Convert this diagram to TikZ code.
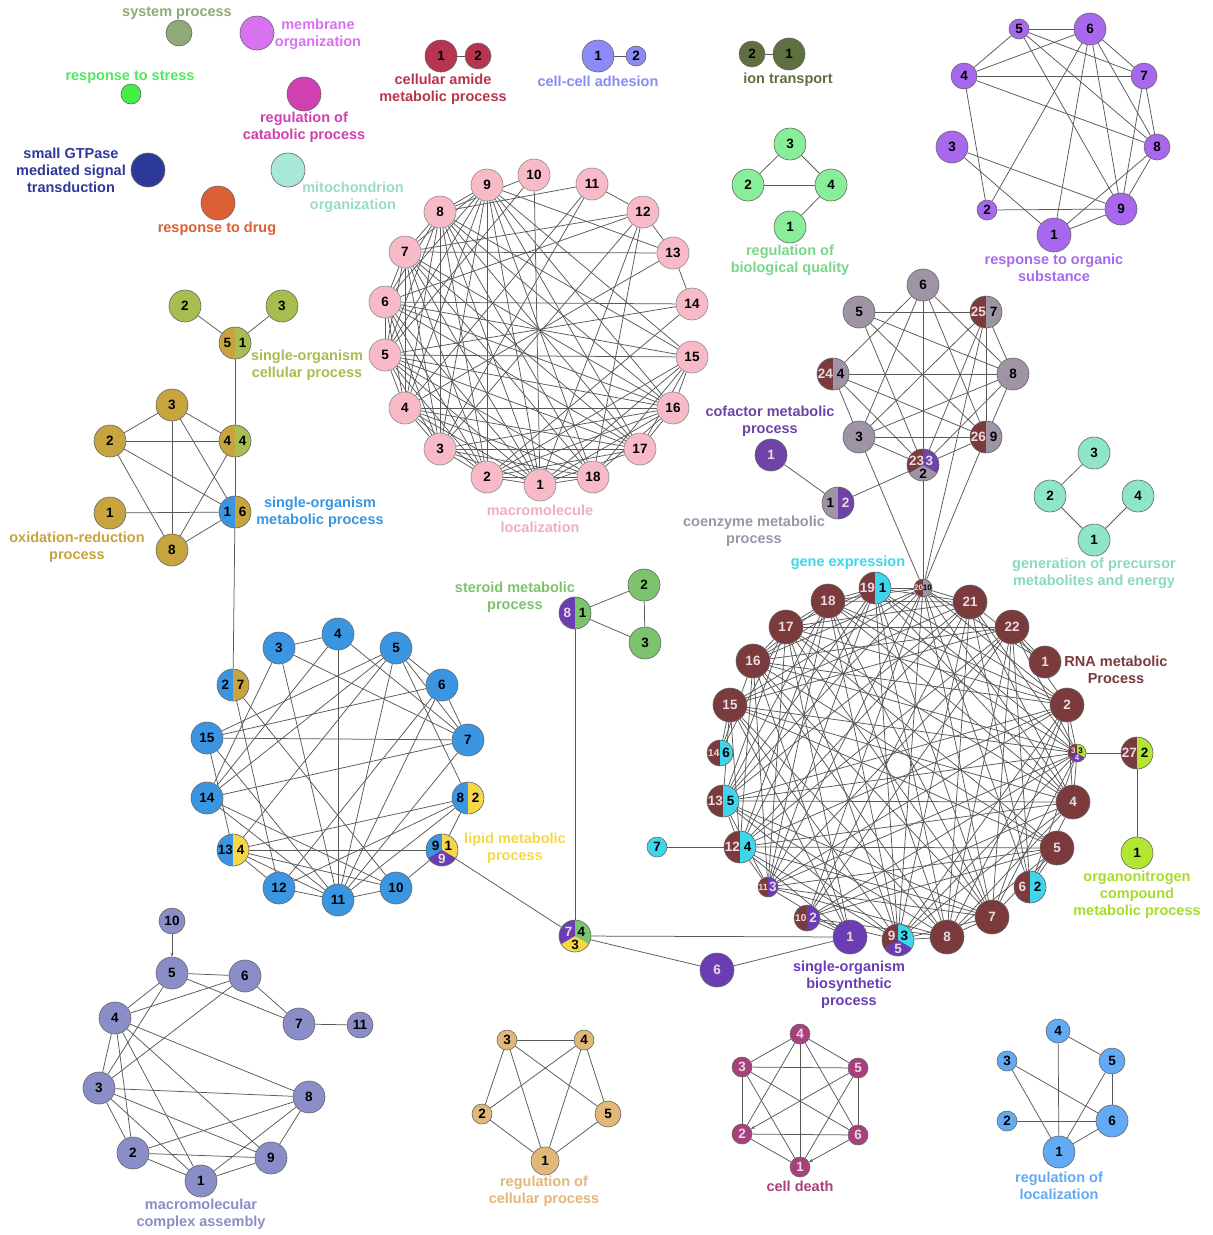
\documentclass[tikz,border=0pt]{standalone}
\usepackage{fontspec}
\setmainfont{Liberation Sans}
\usetikzlibrary{arrows.meta}
\pgfdeclarelayer{bg}
\pgfsetlayers{bg,main}
\definecolor{cRNA}{HTML}{7B3A3C}
\definecolor{cCyan}{HTML}{3DD6EC}
\definecolor{cPurp}{HTML}{6A3DB5}
\definecolor{cGrey}{HTML}{9E94A6}
\definecolor{cPink}{HTML}{F8BAC6}
\definecolor{cBlue}{HTML}{3A96E2}
\definecolor{cGold}{HTML}{C8A43E}
\definecolor{cOlive}{HTML}{A6BE50}
\definecolor{cYel}{HTML}{F6D846}
\definecolor{cSter}{HTML}{7CC46C}
\definecolor{cLime}{HTML}{B2E632}
\definecolor{cMint}{HTML}{8FE6C6}
\definecolor{cBQ}{HTML}{88EE98}
\definecolor{cOrg}{HTML}{A868EE}
\definecolor{cLil}{HTML}{8A8EC8}
\definecolor{cTan}{HTML}{E2B878}
\definecolor{cDeath}{HTML}{A8407E}
\definecolor{cLoc}{HTML}{62AAF4}
\definecolor{cSys}{HTML}{8FAA78}
\definecolor{cMem}{HTML}{D872F0}
\definecolor{cStress}{HTML}{44EE44}
\definecolor{cStressL}{HTML}{50E860}
\definecolor{cCat}{HTML}{D040B0}
\definecolor{cGtp}{HTML}{2E3A9A}
\definecolor{cMito}{HTML}{A8E8D8}
\definecolor{cMitoL}{HTML}{98DCC8}
\definecolor{cDrug}{HTML}{DD6035}
\definecolor{cAmide}{HTML}{B83550}
\definecolor{cAdh}{HTML}{8A8AF8}
\definecolor{cIon}{HTML}{5E7040}
\definecolor{cCof}{HTML}{6E44A8}
\definecolor{pale}{HTML}{EADCE2}
\newcommand\ndfont{\fontsize{13.5pt}{13.5pt}\selectfont\bfseries}
\newcommand\lbfont{\fontsize{14.5pt}{17pt}\selectfont\bfseries}
\newcommand\smf{\fontsize{8pt}{8pt}\selectfont}
\newcommand\mysn[6]{\node[nd,fill=#4,minimum size=#3pt,text=#5] (#1) at (#2) {#6};}
\newcommand\myhn[7]{%
  \node[nd,fill=#4,minimum size=#3pt,path picture={\fill[#5] ([yshift=-30pt]path picture bounding box.center) rectangle ++(30pt,60pt);}] (#1) at (#2) {};
  \node[nt] (#1a) at ([xshift=-0.24*#3pt]#1.center) {#6};
  \node[nt] (#1b) at ([xshift=0.24*#3pt]#1.center) {#7};}
\newcommand\mytn[9]{%
  \node[nd,fill=#6,minimum size=#3pt,path picture={\fill[#4] (path picture bounding box.center) -- +(90:30pt) -- +(150:30pt) -- +(210:30pt) -- cycle; \fill[#5] (path picture bounding box.center) -- +(90:30pt) -- +(30:30pt) -- +(-30:30pt) -- cycle;}] (#1) at (#2) {};
  \node[nt] (#1a) at ([xshift=-0.2*#3pt,yshift=0.12*#3pt]#1.center) {#7};
  \node[nt] (#1b) at ([xshift=0.2*#3pt,yshift=0.12*#3pt]#1.center) {#8};
  \node[nt] (#1c) at ([yshift=-0.28*#3pt]#1.center) {#9};}
\begin{document}
\begin{tikzpicture}[x=1pt,y=-1pt,
  nd/.style={circle,draw=black!60,line width=0.6pt,inner sep=0pt,font=\ndfont},
  nt/.style={inner sep=0pt,font=\ndfont},
  edge/.style={draw=black!65,line width=0.75pt},
  arr/.style={edge,-{Stealth[length=4pt,width=3pt]}},
  lab/.style={font=\lbfont,align=center,inner sep=0pt}]
\useasboundingbox (0,0) rectangle (1213,1235);
\begin{pgfonlayer}{bg}
\fill[white] (0,0) rectangle (1213,1235);
\end{pgfonlayer}

% ---------- singletons ----------
\mysn{sys}{179,33}{26}{cSys}{black}{}
\mysn{mem}{257,33}{34}{cMem}{black}{}
\mysn{stress}{131,94}{20}{cStress}{black}{}
\mysn{cat}{304,94}{34}{cCat}{black}{}
\mysn{gtp}{148,170}{34}{cGtp}{black}{}
\mysn{mito}{288,170}{34}{cMito}{black}{}
\mysn{drug}{218,203}{34}{cDrug}{black}{}
\node[lab,text=cSys] (Lsys) at (177,13) {system process};
\node[lab,text=cMem] (Lmem) at (318,34) {membrane\\organization};
\node[lab,text=cStressL] (Lstress) at (130,77) {response to stress};
\node[lab,text=cCat] (Lcat) at (304,127) {regulation of\\catabolic process};
\node[lab,text=cGtp] (Lgtp) at (71,170) {small GTPase\\mediated signal\\transduction};
\node[lab,text=cMitoL] (Lmito) at (353,197) {mitochondrion\\organization};
\node[lab,text=cDrug] (Ldrug) at (217,229) {response to drug};

% ---------- pairs ----------
\mysn{AM1}{441,56}{32}{cAmide}{black}{1}
\mysn{AM2}{478,56}{26}{cAmide}{black}{2}
\node[lab,text=cAmide] (Lam) at (443,89) {cellular amide\\metabolic process};
\mysn{AD1}{598,56}{32}{cAdh}{black}{1}
\mysn{AD2}{636,56}{20}{cAdh}{black}{2}
\node[lab,text=cAdh] (Lad) at (598,81) {cell-cell adhesion};
\mysn{IO2}{752,54}{26}{cIon}{black}{2}
\mysn{IO1}{789,54}{32}{cIon}{black}{1}
\node[lab,text=cIon] (Lio) at (788,80) {ion transport};

% ---------- regulation of biological quality ----------
\mysn{BQ3}{790,144}{32}{cBQ}{black}{3}
\mysn{BQ2}{748,185}{32}{cBQ}{black}{2}
\mysn{BQ4}{831,185}{32}{cBQ}{black}{4}
\mysn{BQ1}{790,227}{32}{cBQ}{black}{1}
\node[lab,text=cBQ!90!black] (Lbq) at (790,260) {regulation of\\biological quality};

% ---------- response to organic substance ----------
\mysn{U1}{1054,235}{34}{cOrg}{black}{1}
\mysn{U2}{987,210}{20}{cOrg}{black}{2}
\mysn{U3}{952,147}{32}{cOrg}{black}{3}
\mysn{U4}{964,76}{26}{cOrg}{black}{4}
\mysn{U5}{1019,29}{20}{cOrg}{black}{5}
\mysn{U6}{1090,29}{32}{cOrg}{black}{6}
\mysn{U7}{1144,76}{26}{cOrg}{black}{7}
\mysn{U8}{1157,147}{26}{cOrg}{black}{8}
\mysn{U9}{1121,209}{32}{cOrg}{black}{9}
\node[lab,text=cOrg] (Lorg) at (1054,268) {response to organic\\substance};

% ---------- macromolecule localization ----------
\foreach \n/\p in {1/{540,485},2/{487,477},3/{440,449},4/{405,408},5/{385,355},6/{385,302},7/{405,252},8/{440,212},9/{487,185},10/{534,175},11/{592,184},12/{643,212},13/{673,253},14/{692,304},15/{692,357},16/{673,408},17/{640,449},18/{593,477}}
  {\node[nd,fill=cPink,draw=black!45,minimum size=32pt] (P\n) at (\p) {\n};}
\node[lab,text=cPink!95!black] (Lpink) at (540,519) {macromolecule\\localization};

% ---------- single-organism cellular / oxidation-reduction ----------
\mysn{O2}{185,306}{32}{cOlive}{black}{2}
\mysn{O3}{282,306}{32}{cOlive}{black}{3}
\myhn{O51}{235,343}{32}{cGold}{cOlive}{5}{1}
\myhn{O44}{235,441}{32}{cGold}{cOlive}{4}{4}
\myhn{O16}{235,512}{32}{cBlue}{cGold}{1}{6}
\mysn{X3}{172,405}{32}{cGold}{black}{3}
\mysn{X2}{110,441}{32}{cGold}{black}{2}
\mysn{X1}{110,513}{32}{cGold}{black}{1}
\mysn{X8}{172,550}{32}{cGold}{black}{8}
\node[lab,text=cOlive] (Lsoc) at (307,365) {single-organism\\cellular process};
\node[lab,text=cGold] (Lox) at (77,547) {oxidation-reduction\\process};
\node[lab,text=cBlue] (Lsom) at (320,512) {single-organism\\metabolic process};

% ---------- single-organism metabolic process (blue) ----------
\foreach \n/\p in {3/{279,648},4/{338,634},5/{396,648},6/{442,685},7/{468,740},15/{207,738},14/{207,798},12/{279,888},11/{338,900},10/{396,888}}
  {\node[nd,fill=cBlue,minimum size=32pt] (B\n) at (\p) {\n};}
\myhn{B2}{233,685}{32}{cBlue}{cGold}{2}{7}
\myhn{B8}{468,798}{32}{cBlue}{cYel}{8}{2}
\myhn{B13}{233,850}{32}{cBlue}{cYel}{13}{4}
\mytn{B9}{442,850}{32}{cBlue}{cYel}{cPurp}{9}{1}{\color{pale}9}
\node[lab,text=cYel] (Llip) at (515,848) {lipid metabolic\\process};

% ---------- steroid ----------
\myhn{S81}{575,613}{32}{cPurp}{cSter}{\color{pale}8}{1}
\mysn{S2}{644,585}{32}{cSter}{black}{2}
\mysn{S3}{645,643}{32}{cSter}{black}{3}
\node[lab,text=cSter] (Lster) at (515,597) {steroid metabolic\\process};
\mytn{M743}{575,936}{32}{cPurp}{cSter}{cYel}{\color{pale}7}{4}{3}
\mysn{Q7}{657,847}{20}{cCyan}{black}{7}
\mysn{V6}{717,970}{34}{cPurp}{pale}{6}

% ---------- coenzyme / cofactor (grey) ----------
\mysn{G6}{923,285}{32}{cGrey}{black}{6}
\mysn{G5}{859,312}{32}{cGrey}{black}{5}
\mysn{G8}{1013,374}{32}{cGrey}{black}{8}
\mysn{G3}{859,437}{32}{cGrey}{black}{3}
\myhn{G25}{986,312}{32}{cRNA}{cGrey}{\color{pale}25}{7}
\myhn{G24}{833,374}{32}{cRNA}{cGrey}{\color{pale}24}{4}
\myhn{G26}{986,437}{32}{cRNA}{cGrey}{\color{pale}26}{9}
\mytn{G23}{923,465}{32}{cRNA}{cCof}{cGrey}{\color{pale}23}{\color{pale}3}{2}
\mysn{F1}{771,455}{32}{cCof}{pale}{1}
\myhn{C12}{838,503}{32}{cGrey}{cCof}{1}{\color{pale}2}
\node[lab,text=cCof] (Lcof) at (770,421) {cofactor metabolic\\process};
\node[lab,text=cGrey] (Lcoe) at (754,531) {coenzyme metabolic\\process};

% ---------- generation of precursor metabolites ----------
\mysn{N3}{1094,453}{32}{cMint}{black}{3}
\mysn{N2}{1050,496}{32}{cMint}{black}{2}
\mysn{N4}{1138,496}{32}{cMint}{black}{4}
\mysn{N1}{1094,540}{32}{cMint}{black}{1}
\node[lab,text=cMint!95!black] (Lgen) at (1094,573) {generation of precursor\\metabolites and energy};

% ---------- RNA metabolic process ----------
\myhn{R0}{875,588}{32}{cRNA}{cCyan}{\color{pale}19}{1}
\myhn{R1}{923,588}{18}{cRNA}{cGrey}{\smf\color{pale}20}{\smf 10}
\mysn{R2}{970,602}{34}{cRNA}{pale}{21}
\mysn{R3}{1012,627}{34}{cRNA}{pale}{22}
\mysn{R4}{1045,662}{32}{cRNA}{pale}{1}
\mysn{R5}{1067,705}{34}{cRNA}{pale}{2}
\mytn{R6}{1077,753}{18}{cRNA}{cLime}{cPurp}{\smf\color{pale}3}{\smf 3}{\smf\color{pale}4}
\mysn{R7}{1073,802}{34}{cRNA}{pale}{4}
\mysn{R8}{1057,848}{34}{cRNA}{pale}{5}
\myhn{R9}{1030,887}{32}{cRNA}{cCyan}{\color{pale}6}{2}
\mysn{R10}{992,917}{34}{cRNA}{pale}{7}
\mysn{R11}{947,937}{34}{cRNA}{pale}{8}
\mytn{R12}{898,940}{32}{cRNA}{cCyan}{cPurp}{\color{pale}9}{3}{\color{pale}5}
\mysn{R13}{850,937}{34}{cPurp}{pale}{1}
\myhn{R14}{807,918}{26}{cRNA}{cPurp}{\fontsize{10pt}{10pt}\selectfont\color{pale}10}{\color{pale}2}
\myhn{R15}{768,887}{20}{cRNA}{cPurp}{\fontsize{9pt}{9pt}\selectfont\color{pale}11}{\color{pale}3}
\myhn{R16}{740,847}{32}{cRNA}{cCyan}{\color{pale}12}{4}
\myhn{R17}{723,801}{32}{cRNA}{cCyan}{\color{pale}13}{5}
\myhn{R18}{720,753}{26}{cRNA}{cCyan}{\fontsize{10pt}{10pt}\selectfont\color{pale}14}{6}
\mysn{R19}{730,705}{34}{cRNA}{pale}{15}
\mysn{R20}{753,661}{34}{cRNA}{pale}{16}
\mysn{R21}{786,627}{34}{cRNA}{pale}{17}
\mysn{R22}{828,601}{34}{cRNA}{pale}{18}
\myhn{L27}{1137,753}{32}{cRNA}{cLime}{\color{pale}27}{2}
\mysn{L1}{1137,853}{32}{cLime}{black}{1}
\node[lab,text=cCyan] (Lgene) at (848,563) {gene expression};
\node[lab,text=cRNA] (Lrna) at (1116,670) {RNA metabolic\\Process};
\node[lab,text=cLime!95!black] (Lorgn) at (1137,895) {organonitrogen\\compound\\metabolic process};
\node[lab,text=cPurp] (Lbio) at (849,985) {single-organism\\biosynthetic\\process};

% ---------- macromolecular complex assembly ----------
\foreach \n/\p/\d in {10/{172,921}/26,5/{172,973}/32,6/{245,976}/32,4/{115,1018}/32,7/{299,1024}/32,11/{360,1025}/26,3/{99,1088}/32,8/{309,1097}/32,2/{133,1153}/32,9/{271,1158}/32,1/{201,1181}/32}
  {\node[nd,fill=cLil,minimum size=\d pt] (A\n) at (\p) {\n};}
\node[lab,text=cLil] (Lmca) at (201,1214) {macromolecular\\complex assembly};

% ---------- regulation of cellular process ----------
\foreach \n/\p/\d in {3/{507,1040}/20,4/{584,1040}/20,2/{482,1114}/20,5/{608,1114}/26,1/{545,1161}/28}
  {\node[nd,fill=cTan,minimum size=\d pt] (T\n) at (\p) {\n};}
\node[lab,text=cTan] (Lrcp) at (544,1191) {regulation of\\cellular process};

% ---------- cell death ----------
\foreach \n/\p in {4/{800,1034},3/{742,1067},5/{858,1068},2/{742,1134},6/{858,1135},1/{800,1167}}
  {\node[nd,fill=cDeath,text=pale,minimum size=20pt] (D\n) at (\p) {\n};}
\node[lab,text=cDeath] (Lcd) at (800,1186) {cell death};

% ---------- regulation of localization ----------
\foreach \n/\p/\d in {4/{1058,1031}/24,3/{1007,1061}/20,5/{1112,1061}/26,2/{1007,1121}/20,6/{1112,1121}/32,1/{1059,1152}/32}
  {\node[nd,fill=cLoc,minimum size=\d pt] (Z\n) at (\p) {\n};}
\node[lab,text=cLoc] (Lrl) at (1059,1186) {regulation of\\localization};

% ================= edges =================
\begin{pgfonlayer}{bg}
\draw[edge] (AM1) -- (AM2);
\draw[edge] (AD1) -- (AD2);
\draw[edge] (IO2) -- (IO1);
\foreach \a/\b in {3/2,3/4,2/4,4/1} \draw[edge] (BQ\a) -- (BQ\b);
\foreach \a/\b in {5/6,5/7,5/4,6/4,4/7,4/8,4/2,5/8,5/9,6/7,6/8,6/9,6/1,6/2,7/8,7/9,8/9,8/1,3/9,3/1,2/9,1/9}
  \draw[edge] (U\a) -- (U\b);
\foreach \a/\b in {9/8,9/7,9/6,9/5,9/4,9/3,9/2,9/1,9/18,9/17,9/16,9/15,9/13,
  8/7,8/6,8/5,8/4,8/3,8/2,8/1,8/18,8/17,8/16,8/15,8/10,8/11,
  7/6,7/5,7/4,7/3,7/2,7/1,7/13,7/16,7/17,7/18,7/12,
  6/5,6/4,6/3,6/2,6/1,6/15,6/16,6/17,6/12,6/14,
  5/4,5/3,5/2,5/1,5/15,5/16,5/17,5/18,5/14,5/10,
  4/3,4/2,4/1,4/16,4/17,4/18,3/2,3/1,3/16,3/17,3/18,3/12,
  2/1,2/18,2/17,2/16,2/15,2/14,1/18,1/17,1/16,1/15,1/12,1/10,
  11/12,11/4,11/3,12/13,12/18,13/14,13/4,16/17,16/18,16/15,15/18,15/17}
  \draw[edge] (P\a) -- (P\b);
\foreach \a/\b in {O2/O51,O3/O51,O51/O44,O44/O16,O16/B2,X3/X2,X3/O44,X3/X8,X3/O16,X2/O44,X2/X8,X2/O16,O44/X8,X1/O16,X8/O16}
  \draw[edge] (\a) -- (\b);
\foreach \a/\b in {3/4,3/7,3/11,3/14,4/11,4/14,4/7,5/15,5/14,5/13,5/11,5/6,5/7,5/8,6/15,6/11,6/7,6/12,7/15,7/14,7/11,2/12,2/10,15/11,15/13,14/11,14/10,8/13,8/12,8/9,8/11,13/9,13/12,13/10,13/11,12/11,11/10,10/9}
  \draw[edge] (B\a) -- (B\b);
\foreach \a/\b in {B9/M743,S81/S2,S81/S3,S2/S3,S81/M743,M743/R13,M743/V6,V6/R13,Q7/R16,F1/C12,C12/G23,N3/N2,N2/N1,N1/N4,R6/L27,L27/L1}
  \draw[edge] (\a) -- (\b);
\foreach \a/\b in {6/24,6/3,6/23,6/26,6/8,5/25,5/8,5/23,5/26,25/3,25/23,25/26,25/8,24/8,24/3,24/23,24/26,3/26,3/8,3/23,23/26,23/8,8/26}
  \draw[edge] (G\a) -- (G\b);
\foreach \a in {G3,G23,G26,G25} \draw[edge] (\a) -- (R1);
\foreach \i in {0,...,22}{
  \foreach \j in {0,...,22}{
    \ifnum\j>\i\relax
      \pgfmathtruncatemacro\k{mod(\i*7+\j*11+\i*\j,5)}
      \ifnum\k<3\relax \draw[edge] (R\i) -- (R\j); \fi
    \fi
  }
}
\draw[arr] (A10) -- (A5);
\foreach \a/\b in {5/6,5/7,5/4,5/3,6/4,6/7,6/3,7/11,4/3,4/2,4/1,4/9,4/8,3/8,3/2,3/1,3/9,2/8,2/9,2/1,1/9,1/8,9/8}
  \draw[edge] (A\a) -- (A\b);
\foreach \a/\b in {3/4,3/2,3/5,3/1,4/2,4/1,4/5,2/1,5/1}
  \draw[edge] (T\a) -- (T\b);
\foreach \a/\b in {4/3,4/5,4/2,4/6,4/1,3/5,3/2,3/6,3/1,5/6,5/1,2/6,2/1}
  \draw[edge] (D\a) -- (D\b);
\draw[arr] (D5) -- (D2);
\draw[arr] (D6) -- (D1);
\foreach \a/\b in {4/5,4/1,3/6,3/1,5/6,5/1,2/6,1/6}
  \draw[edge] (Z\a) -- (Z\b);
\end{pgfonlayer}
\end{tikzpicture}
\end{document}
